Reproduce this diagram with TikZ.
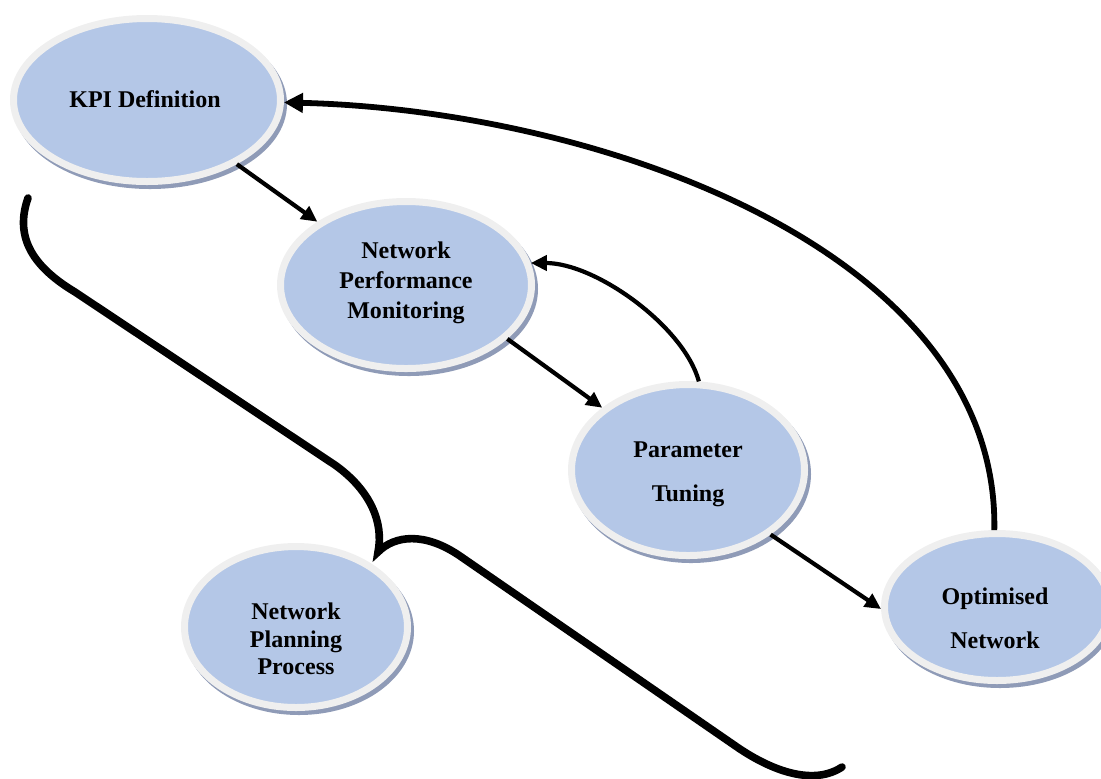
\documentclass[tikz,border=0pt]{standalone}
\usepackage{fontspec}
\setmainfont{Liberation Serif}
\usetikzlibrary{arrows.meta,shapes.geometric,shadows}
\definecolor{ovalblue}{HTML}{B4C7E7}
\definecolor{ringgray}{HTML}{EFEFEF}
\definecolor{shadowblue}{HTML}{8F9BB7}
\begin{document}
\begin{tikzpicture}[x=0.5pt,y=-0.5pt,
  oval/.style={ellipse, fill=ovalblue, draw=ringgray, line width=3.5pt, inner sep=0pt,
    general shadow={shadow xshift=1.5pt, shadow yshift=-2pt, fill=shadowblue, draw=shadowblue, line width=3.5pt}},
  ovaltext/.style={font=\bfseries\fontsize{12}{#1}\selectfont, align=center, inner sep=0pt},
  ovaltext/.default=15,
  flow/.style={-{Triangle[length=8pt,width=7.5pt]}, line width=2.1pt},
  bigflow/.style={-{Triangle[length=9.5pt,width=9.5pt]}, line width=2.9pt},
  bracepath/.style={line width=3.8pt, line cap=round}
]
\useasboundingbox (0,0) rectangle (1101,778);

% ellipses
\node[oval, minimum width=133.5pt, minimum height=81.5pt] (kpi) at (147,100) {};
\node[oval, minimum width=125.5pt, minimum height=83.5pt] (npm) at (406,285) {};
\node[oval, minimum width=116.5pt, minimum height=85.5pt] (pt)  at (688,470) {};
\node[oval, minimum width=112.5pt, minimum height=73.5pt] (on)  at (997,607) {};
\node[oval, minimum width=111.5pt, minimum height=80.5pt] (npp) at (296,627) {};

% texts
\node[ovaltext] (kpit) at (145,99) {KPI Definition};
\node[ovaltext] (npmt) at (406,283) {Network\\Performance\\Monitoring};
\node[ovaltext=22] (ptt) at (688,474) {Parameter\\Tuning};
\node[ovaltext=22] (ont) at (995,618) {Optimised\\Network};
\node[ovaltext=13.75] (nppt) at (296,639) {Network\\Planning\\Process};

% connectors
\draw[flow] (kpi) -- (npm);
\draw[flow] (npm.332) -- (pt.144);
\draw[flow] (pt.-38) -- (on.181);
\draw[flow] (pt.83) .. controls +(-15,-55) and +(65,0) .. (npm.10);
\draw[bigflow] (on.92) .. controls +(5,-280) and +(314,8) .. (kpi.-1);

% brace
\draw[bracepath] (28,198) .. controls (15,235) and (30,265) .. (75,292)
  -- (335,465) .. controls (370,490) and (384,522) .. (378,552)
  .. controls (395,535) and (425,532) .. (460,556)
  -- (737,747) .. controls (775,773) and (815,785) .. (842,767);
\end{tikzpicture}
\end{document}
